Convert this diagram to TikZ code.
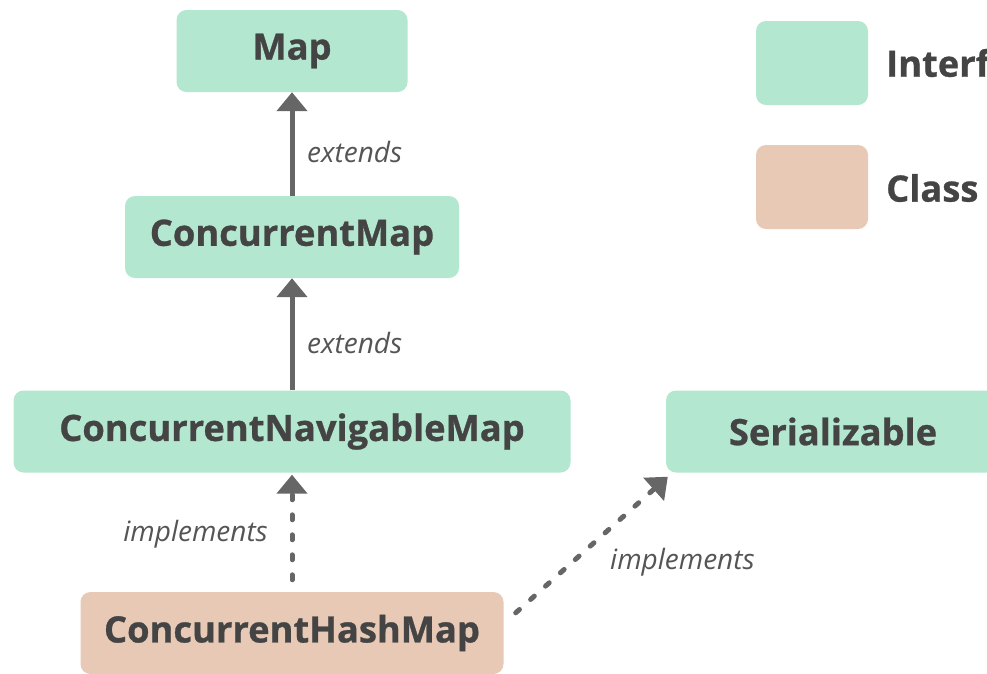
\documentclass[tikz,border=0pt]{standalone}
\usepackage{fontspec}
\setmainfont{Open Sans}[BoldFeatures={FakeBold=0.8}]
\usetikzlibrary{arrows.meta,calc}
\definecolor{ifacefill}{HTML}{B4E7D0}
\definecolor{classfill}{HTML}{E8C9B6}
\definecolor{inktext}{HTML}{444444}
\definecolor{labeltext}{HTML}{555555}
\definecolor{linkgray}{HTML}{666666}
\begin{document}
\begin{tikzpicture}[x=1pt,y=-1pt,
  box/.style={rectangle, rounded corners=10pt, minimum height=82pt, inner sep=0pt,
    text=inktext, font=\fontsize{36.3}{42}\selectfont\bfseries},
  iface/.style={box, fill=ifacefill},
  cls/.style={box, fill=classfill},
  rel/.style={draw=linkgray, line width=5pt, -{Triangle[width=30pt,length=19pt]}},
  solidrel/.style={rel},
  dotrel/.style={rel, dash pattern=on 5pt off 15pt, line cap=round},
  lbl/.style={text=labeltext, font=\fontsize{28}{32}\selectfont\itshape, inner sep=0pt},
  keytext/.style={text=inktext, font=\fontsize{36.3}{42}\selectfont\bfseries, inner sep=0pt, anchor=west}
]
\useasboundingbox (0,0) rectangle (987,673);
\clip (0,0) rectangle (987,673);

% hierarchy boxes
\node[iface, minimum width=231pt] (map)  at (292,51)    {Map};
\node[iface, minimum width=334pt] (cmap) at (292,237)   {ConcurrentMap};
\node[iface, minimum width=557pt] (nav)  at (292,431.5) {ConcurrentNavigableMap};
\node[iface, minimum width=334pt] (ser)  at (833,431.5) {Serializable};
\node[cls,   minimum width=423pt] (chm)  at (292,633)   {ConcurrentHashMap};

% legend
\node[iface, minimum width=112pt, minimum height=84pt] (keyi) at (812,63) {};
\node[cls,   minimum width=112pt, minimum height=84pt] (keyc) at (812,187) {};
\node[keytext] (keyit) at (886,63)  {Interface};
\node[keytext] (keyct) at (886,188) {Class};

% relations
\draw[solidrel] (cmap.north) -- (map.south);
\draw[solidrel] (nav.north) -- (cmap.south);
\draw[dotrel, shorten <=12pt, shorten >=2pt] (chm.north) -- (nav.south);
\draw[dotrel] ([shift={(12,21)}]chm.north east) -- ([shift={(2,4)}]ser.south west);

% relation labels
\node[lbl, anchor=west] (l1) at (307,152) {extends};
\node[lbl, anchor=west] (l2) at (307,343) {extends};
\node[lbl, anchor=east] (l3) at (268,534) {implements};
\node[lbl, anchor=west] (l4) at (610,562) {implements};
\end{tikzpicture}
\end{document}
